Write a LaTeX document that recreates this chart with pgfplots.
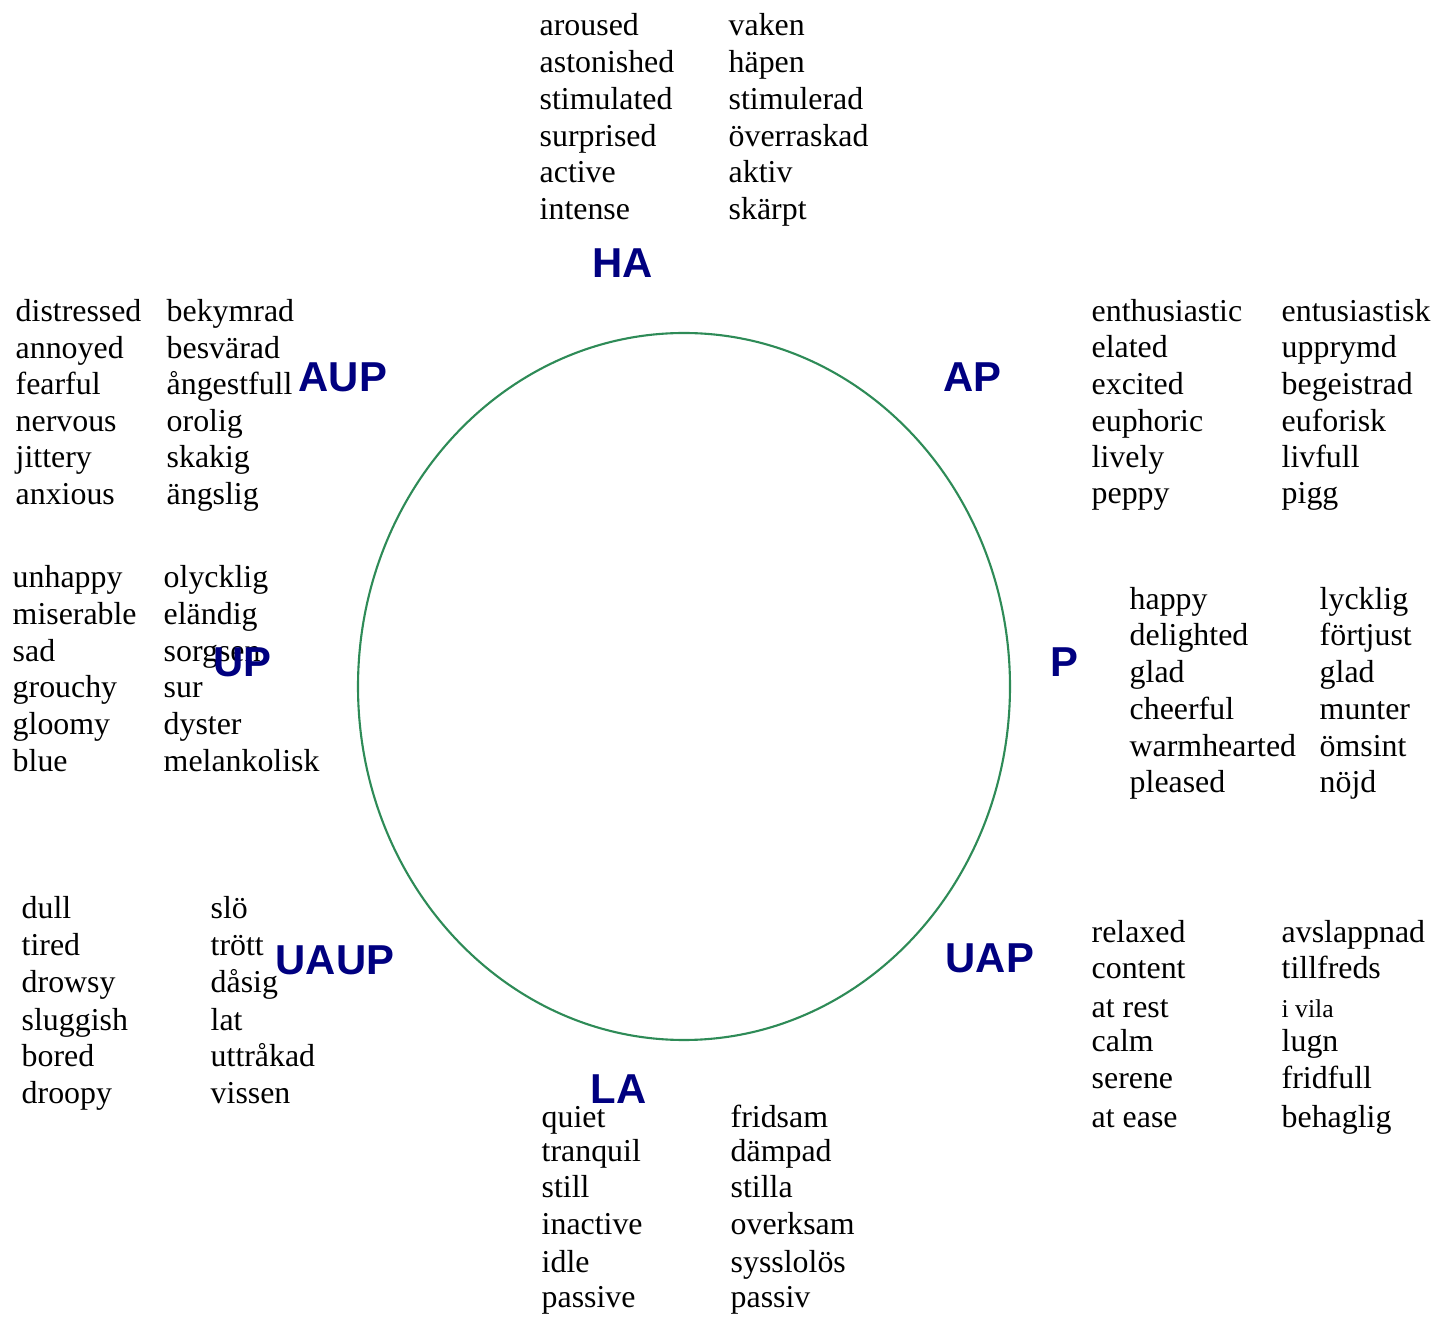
\documentclass[border=0pt]{standalone}
\usepackage{fontspec}
\setmainfont{Liberation Serif}
\newfontfamily\labfont{Liberation Sans}
\usepackage{pgfplots}
\pgfplotsset{compat=1.18}
\definecolor{ring}{RGB}{46,139,87}
\definecolor{labnavy}{RGB}{0,0,128}
\newcommand{\w}[3]{\node[w] at (axis cs:#1,#2) {#3};}
\newcommand{\lab}[3]{\node[L] at (axis cs:#1,#2) {#3};}
\begin{document}
\begin{tikzpicture}[
  w/.style={anchor=base west, inner sep=0pt, font=\fontsize{9.07}{10.5}\selectfont},
  L/.style={anchor=base west, inner sep=0pt, font=\labfont\bfseries\fontsize{11.9}{14}\selectfont, text=labnavy}]
\begin{axis}[scale only axis, width=14.34cm, height=13.2cm,
  xmin=0, xmax=1434, ymin=0, ymax=1320, y dir=reverse,
  hide axis, clip=false]
\addplot[draw=none, forget plot] coordinates {(0,0) (1434,1320)};
\draw[ring, line width=0.6pt] (axis cs:684,686.5) ellipse [x radius=326, y radius=353.5];
% HA
\w{539}{36}{aroused}\w{539}{73}{astonished}\w{539}{110}{stimulated}
\w{539}{147}{surprised}\w{539}{183}{active}\w{539}{220}{intense}
\w{728}{36}{vaken}\w{728}{73}{häpen}\w{728}{110}{stimulerad}
\w{728}{147}{överraskad}\w{728}{183}{aktiv}\w{728}{220}{skärpt}
% AUP
\w{15}{322}{distressed}\w{15}{359}{annoyed}\w{15}{395}{fearful}
\w{15}{432}{nervous}\w{15}{468}{jittery}\w{15}{505}{anxious}
\w{166}{322}{bekymrad}\w{166}{359}{besvärad}\w{166}{395}{ångestfull}
\w{166}{432}{orolig}\w{166}{468}{skakig}\w{166}{505}{ängslig}
% AP
\w{1091}{322}{enthusiastic}\w{1091}{358}{elated}\w{1091}{395}{excited}
\w{1091}{432}{euphoric}\w{1091}{468}{lively}\w{1091}{504}{peppy}
\w{1281}{322}{entusiastisk}\w{1281}{358}{upprymd}\w{1281}{395}{begeistrad}
\w{1281}{432}{euforisk}\w{1281}{468}{livfull}\w{1281}{504}{pigg}
% UP
\w{12}{588}{unhappy}\w{12}{625}{miserable}\w{12}{662}{sad}
\w{12}{698}{grouchy}\w{12}{735}{gloomy}\w{12}{772}{blue}
\w{163}{588}{olycklig}\w{163}{625}{eländig}\w{163}{662}{sorgsen}
\w{163}{698}{sur}\w{163}{735}{dyster}\w{163}{772}{melankolisk}
% P
\w{1129}{610}{happy}\w{1129}{646}{delighted}\w{1129}{683}{glad}
\w{1129}{720}{cheerful}\w{1129}{757}{warmhearted}\w{1129}{793}{pleased}
\w{1319}{610}{lycklig}\w{1319}{646}{förtjust}\w{1319}{683}{glad}
\w{1319}{720}{munter}\w{1319}{757}{ömsint}\w{1319}{793}{nöjd}
% UAUP
\w{21}{919}{dull}\w{21}{956}{tired}\w{21}{993}{drowsy}
\w{21}{1030}{sluggish}\w{21}{1067}{bored}\w{21}{1103}{droopy}
\w{210}{919}{slö}\w{210}{956}{trött}\w{210}{993}{dåsig}
\w{210}{1030}{lat}\w{210}{1067}{uttråkad}\w{210}{1103}{vissen}
% UAP
\w{1091}{943}{relaxed}\w{1091}{979}{content}\w{1091}{1017}{at rest}
\w{1091}{1052}{calm}\w{1091}{1088}{serene}\w{1091}{1127}{at ease}
\w{1281}{943}{avslappnad}\w{1281}{979}{tillfreds}
\node[w, font=\fontsize{7.3}{8.5}\selectfont] at (axis cs:1281,1017) {i vila};
\w{1281}{1052}{lugn}\w{1281}{1088}{fridfull}\w{1281}{1127}{behaglig}
% LA
\w{541}{1127}{quiet}\w{541}{1162}{tranquil}\w{541}{1198}{still}
\w{541}{1235}{inactive}\w{541}{1272}{idle}\w{541}{1308}{passive}
\w{730}{1127}{fridsam}\w{730}{1162}{dämpad}\w{730}{1198}{stilla}
\w{730}{1235}{overksam}\w{730}{1272}{sysslolös}\w{730}{1308}{passiv}
% region labels
\lab{592}{278}{HA}
\lab{298}{392}{AUP}
\lab{943}{392}{AP}
\lab{213}{677}{UP}
\lab{1050}{677}{P}
\lab{275}{975}{UAUP}
\lab{945}{973}{UAP}
\lab{590}{1104}{LA}
\end{axis}
\end{tikzpicture}
\end{document}
